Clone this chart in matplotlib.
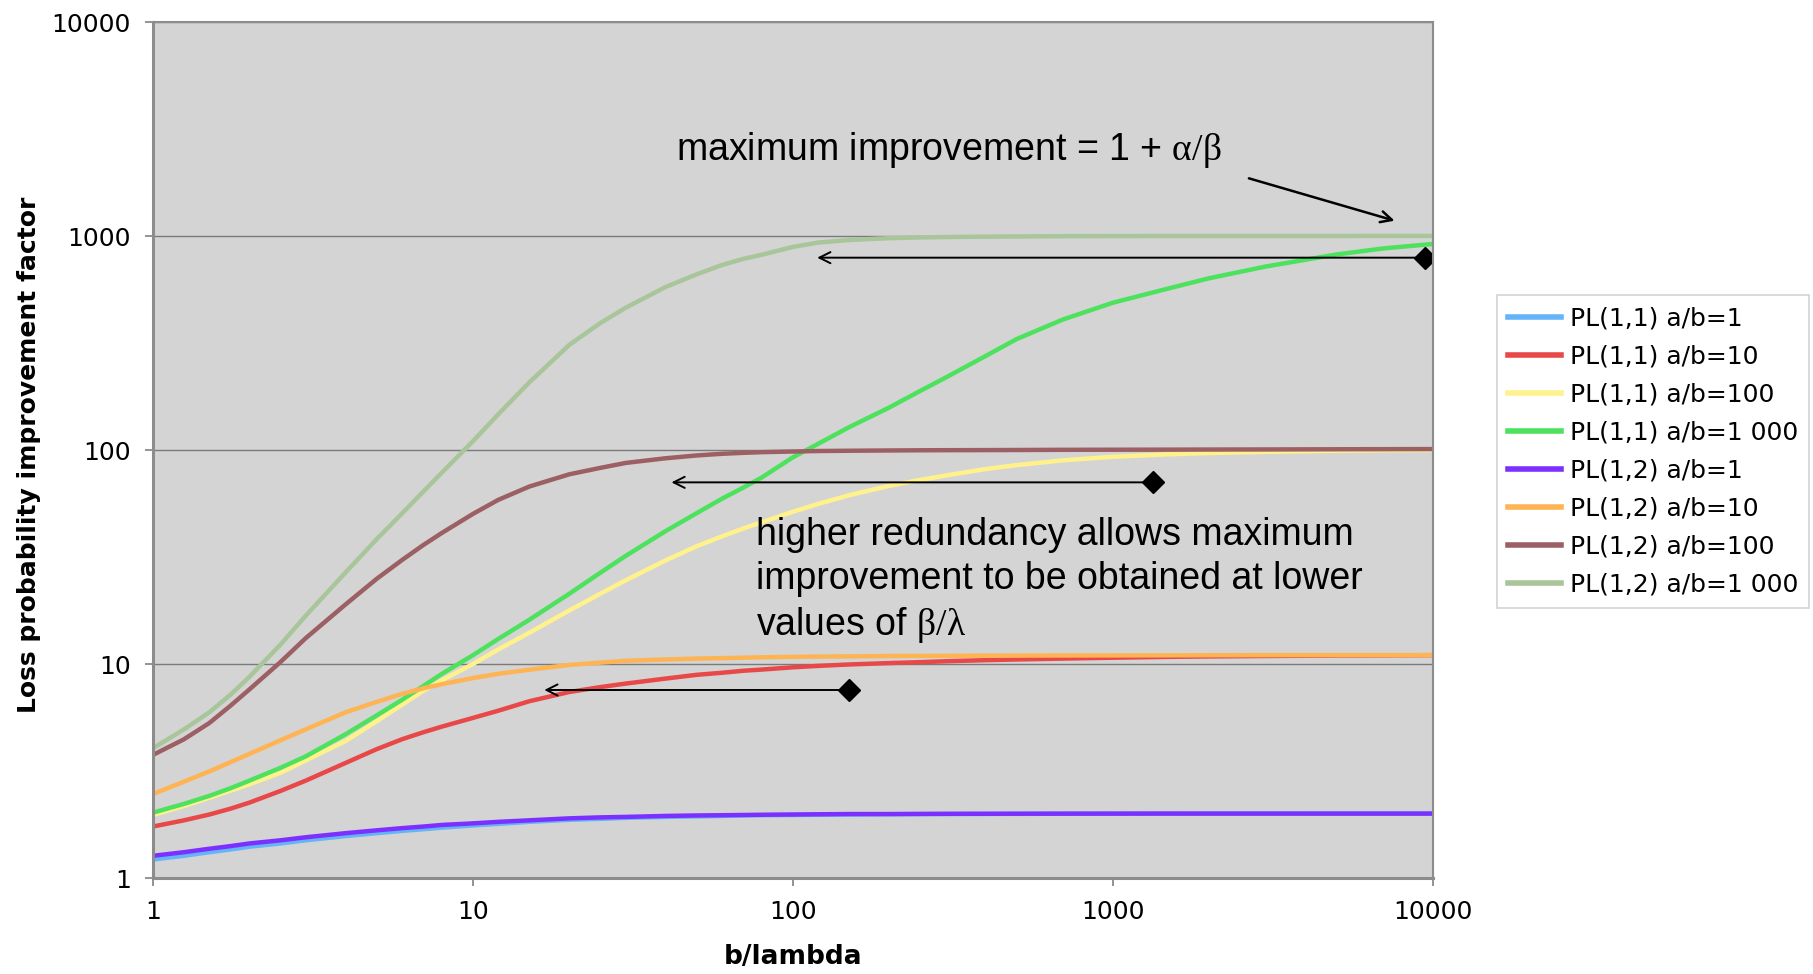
import matplotlib
matplotlib.use('Agg')
import matplotlib.pyplot as plt
from matplotlib import ticker

matplotlib.rcParams['mathtext.fontset'] = 'custom'
matplotlib.rcParams['mathtext.rm'] = 'Liberation Serif'
matplotlib.rcParams['mathtext.it'] = 'Liberation Serif'
matplotlib.rcParams['mathtext.bf'] = 'Liberation Serif:bold'

# b/lambda values (x)
b_lambda = [1, 1.25, 1.5, 1.75, 2, 2.5, 3, 4, 5, 6, 7, 8, 10, 12, 15, 20, 25, 30, 40, 50,
            60, 70, 80, 100, 120, 150, 200, 250, 300, 400, 500, 700, 1000, 1500, 2000,
            3000, 5000, 7000, 10000]

pl11_ab1 = [1.22, 1.27, 1.32, 1.36, 1.40, 1.45, 1.50, 1.57, 1.62, 1.66, 1.69, 1.72, 1.76,
            1.79, 1.83, 1.87, 1.89, 1.91, 1.93, 1.94, 1.95, 1.96, 1.965, 1.97, 1.975, 1.98,
            1.985, 1.988, 1.99, 1.992, 1.994, 1.996, 1.997, 1.998, 1.999, 1.999, 2.0, 2.0, 2.0]
pl11_ab10 = [1.74, 1.86, 1.98, 2.11, 2.25, 2.55, 2.85, 3.45, 4.0, 4.45, 4.8, 5.1, 5.6,
             6.05, 6.7, 7.4, 7.8, 8.1, 8.55, 8.9, 9.1, 9.3, 9.42, 9.65, 9.8, 9.95,
             10.1, 10.2, 10.3, 10.42, 10.5, 10.6, 10.7, 10.8, 10.85, 10.9, 10.95, 10.97, 11.0]
pl11_ab100 = [1.97, 2.17, 2.37, 2.56, 2.74, 3.1, 3.54, 4.37, 5.4, 6.45, 7.5, 8.4, 10.0,
              11.7, 14.0, 17.8, 21.3, 24.6, 30.5, 35.5, 39.5, 43, 46, 51.5, 56, 61.5,
              68, 72.5, 76, 81.5, 85, 89.5, 93, 95.5, 96.8, 98, 99.2, 99.7, 100]
pl11_ab1000 = [2.02, 2.22, 2.42, 2.63, 2.85, 3.27, 3.7, 4.7, 5.75, 6.8, 7.9, 9.0, 11.0,
               13.1, 16.1, 21.3, 26.7, 32, 41.8, 50.7, 59.2, 66.8, 74.5, 92.5, 107, 128,
               158, 189, 218, 275, 330, 408, 488, 570, 635, 720, 820, 875, 918]
pl12_ab1 = [1.27, 1.32, 1.37, 1.41, 1.45, 1.50, 1.55, 1.62, 1.67, 1.71, 1.74, 1.77, 1.80,
            1.83, 1.86, 1.90, 1.92, 1.93, 1.95, 1.96, 1.965, 1.97, 1.975, 1.98, 1.985, 1.99,
            1.99, 1.993, 1.995, 1.996, 1.997, 1.998, 1.999, 2.0, 2.0, 2.0, 2.0, 2.0, 2.0]
pl12_ab10 = [2.47, 2.82, 3.15, 3.48, 3.8, 4.4, 4.95, 5.95, 6.65, 7.25, 7.7, 8.05, 8.6,
             9.0, 9.4, 9.9, 10.15, 10.35, 10.5, 10.6, 10.65, 10.7, 10.75, 10.8, 10.83, 10.85,
             10.9, 10.91, 10.92, 10.94, 10.95, 10.96, 10.97, 10.98, 10.99, 11.0, 11.0, 11.0, 11.0]
pl12_ab100 = [3.76, 4.45, 5.3, 6.4, 7.6, 10.2, 13.2, 19.0, 25.0, 30.6, 36.0, 41.0, 50.3,
              58.5, 67.5, 77, 82.5, 87, 91.5, 94.3, 96, 97, 97.7, 98.4, 98.9, 99.2,
              99.5, 99.7, 99.8, 99.9, 100, 100.2, 100.3, 100.4, 100.5, 100.6, 100.8, 100.9, 101]
pl12_ab1000 = [4.04, 4.95, 5.95, 7.2, 8.7, 12.3, 16.8, 26.8, 38.3, 50.5, 64, 78.5, 110,
               147, 207, 310, 392, 462, 578, 662, 732, 782, 818, 889, 932, 958,
               977, 985, 989, 993, 995, 998, 999, 1000, 1000, 1000, 1000, 1001, 1001]

labels = ['PL(1,1) a/b=1', 'PL(1,1) a/b=10', 'PL(1,1) a/b=100', 'PL(1,1) a/b=1 000',
          'PL(1,2) a/b=1', 'PL(1,2) a/b=10', 'PL(1,2) a/b=100', 'PL(1,2) a/b=1 000']
series = [pl11_ab1, pl11_ab10, pl11_ab100, pl11_ab1000,
          pl12_ab1, pl12_ab10, pl12_ab100, pl12_ab1000]
colors = ['#64b4fa', '#e84848', '#fff28c', '#4de25d',
          '#7b30ff', '#ffb454', '#9c6064', '#a9c59a']

decade_ticks = [1, 10, 100, 1000, 10000]

# horizontal arrows: (tail x, head x, y)
h_arrows = [(9440, 119, 792), (1333, 41.7, 70.6), (150, 16.7, 7.56)]
# slanted arrow from the text to the plateau
diag_tail = (2659, 1860)
diag_head = (7586, 1179)

fig = plt.figure(figsize=(18.13, 9.74), dpi=100)
ax = fig.add_axes([153 / 1813, 96 / 974, 1280 / 1813, 856 / 974])
ax.set_facecolor('#d4d4d4')

for ys, lab, c in zip(series, labels, colors):
    ax.plot(b_lambda, ys, color=c, lw=3.2, label=lab, solid_joinstyle='round')

ax.set_xscale('log')
ax.set_yscale('log')
ax.set_xlim(1, 10000)
ax.set_ylim(1, 10000)
ax.xaxis.set_major_locator(ticker.FixedLocator(decade_ticks))
ax.yaxis.set_major_locator(ticker.FixedLocator(decade_ticks))
ax.xaxis.set_minor_locator(ticker.NullLocator())
ax.yaxis.set_minor_locator(ticker.NullLocator())
ax.xaxis.set_major_formatter(ticker.FuncFormatter(lambda v, p: '%d' % v))
ax.yaxis.set_major_formatter(ticker.FuncFormatter(lambda v, p: '%d' % v))
ax.tick_params(direction='out', length=6, width=1.2, color='#808080',
               labelsize=18, pad=10)
ax.yaxis.grid(True, color='#7a7a7a', lw=1)
ax.set_axisbelow(True)
for s in ax.spines.values():
    s.set_color('#8c8c8c')
    s.set_linewidth(1.5)
ax.spines['left'].set_linewidth(2.2)
ax.spines['bottom'].set_linewidth(2.2)

ax.set_xlabel('b/lambda', fontsize=19, fontweight='bold')
ax.set_ylabel('Loss probability improvement factor', fontsize=18, fontweight='bold')
ax.xaxis.set_label_coords(0.5, -0.092)
ax.xaxis.label.set_va('center')
ax.yaxis.set_label_coords(-0.097, 0.494)
ax.yaxis.label.set_va('center')

# arrows with diamond tails
for tx, hx, y in h_arrows:
    ax.annotate('', xy=(hx, y), xytext=(tx, y),
                arrowprops=dict(arrowstyle='->,head_length=0.8,head_width=0.4',
                                lw=1.4, color='black', shrinkA=0, shrinkB=0))
    ax.plot([tx], [y], marker='D', ms=11, color='black', lw=0)

ax.annotate('', xy=diag_head, xytext=diag_tail,
            arrowprops=dict(arrowstyle='->,head_length=0.8,head_width=0.4',
                            lw=1.8, color='black', shrinkA=0, shrinkB=0))

ax.text(43.2, 2265, r'maximum improvement = 1 + $\alpha/\beta$',
        fontsize=27, family='Liberation Sans', va='baseline', ha='left')
ax.text(76.9, 48.6, 'higher redundancy allows maximum\nimprovement to be obtained at lower\n'
        r'values of $\beta/\lambda$',
        fontsize=27, family='Liberation Sans', va='top', ha='left', linespacing=1.28)

leg = fig.legend(loc='upper left', bbox_to_anchor=(1497 / 1813, 1 - 295 / 974),
                 borderaxespad=0, fontsize=18, frameon=True, fancybox=False,
                 handlelength=2.1, handletextpad=0.35, borderpad=0.45, labelspacing=0.56)
leg.get_frame().set_edgecolor('#c8c8c8')
leg.get_frame().set_linewidth(1.2)
for l in leg.get_lines():
    l.set_linewidth(4)

fig.savefig('out.png', dpi=100)
